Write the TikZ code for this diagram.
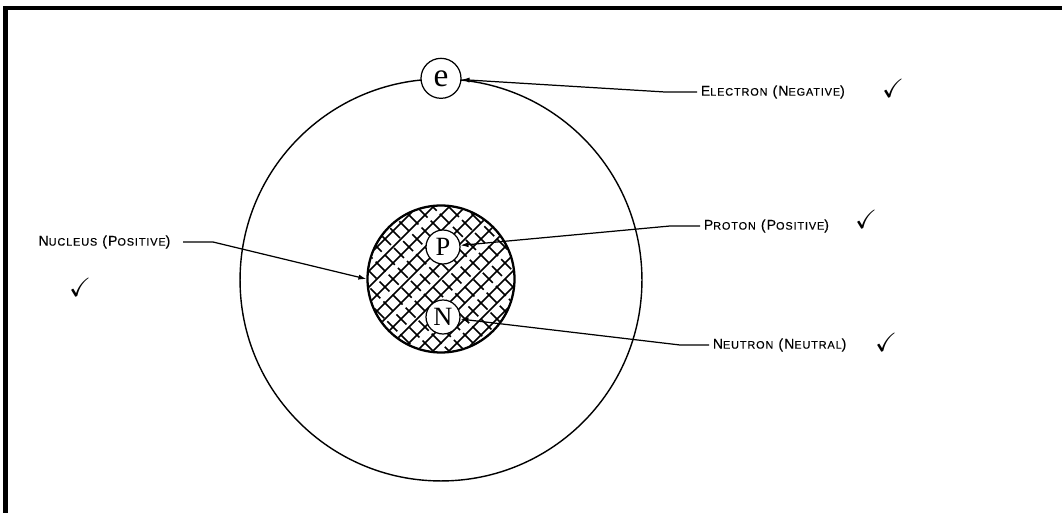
\documentclass[tikz,border=0pt]{standalone}
\usepackage{amssymb}
\usepackage{fontspec}
\setmainfont{Liberation Serif}
\newfontfamily\tagfont[LetterSpace=8,FakeBold=0.4]{Liberation Sans}
\usetikzlibrary{arrows.meta}
\newcommand{\smc}[1]{{\fontsize{6.2}{7}\selectfont #1}}
\tikzset{
  orbit/.style={circle, draw, line width=0.8pt, minimum size=8.04cm, inner sep=0pt},
  core/.style={circle, draw, fill=white, line width=1.3pt, minimum size=2.94cm, inner sep=0pt},
  particle/.style={circle, draw, fill=white, line width=0.7pt, minimum size=0.68cm,
                   inner sep=0pt, font=\fontsize{15}{17}\selectfont},
  tag/.style={anchor=west, inner sep=2pt, font=\tagfont\fontsize{8}{9}\selectfont},
  pointer/.style={-{Latex[length=4.5pt,width=3pt]}, line width=0.7pt},
  hatch/.style={line width=1pt},
  tick/.style={font=\fontsize{15}{17}\selectfont, inner sep=0pt},
  frame/.style={line width=2.3pt},
}

\begin{document}
\begin{tikzpicture}[x=0.02cm, y=-0.02cm]
  \useasboundingbox (0,0) rectangle (1062,513);
  \draw[frame] (1062,8) -| (5.5,513);
  % atom
  \node[orbit] (orbit) at (441,280) {};
  \node[particle, minimum size=0.8cm, font=\fontsize{19}{21}\selectfont] (e) at (orbit.north) {e};
  \node[core] (nuc) at (441,279) {};
  \begin{scope}
    \clip (441,279) circle (1.45cm);
    \begin{scope}[shift={(441,279)}]
      \foreach \k in {-112,-96,...,112} {
        \draw[hatch] (\k-90,90) -- (\k+90,-90);
        \draw[hatch, dash pattern=on 8pt off 2.5pt, dash phase=\k pt] (\k-90,-90) -- (\k+90,90);
      }
    \end{scope}
  \end{scope}
  \node[particle] (p) at (443,247) {P};
  \node[particle] (n) at (443,317) {N};
  % labels
  \node[tag] (elab) at (697,92) {E\smc{LECTRON} (N\smc{EGATIVE})};
  \node[tag] (plab) at (700,226) {P\smc{ROTON} (P\smc{OSITIVE})};
  \node[tag] (nlab) at (709,345) {N\smc{EUTRON} (N\smc{EUTRAL})};
  \node[tag, anchor=east, inner xsep=7pt] (nuclab) at (183,242) {N\smc{UCLEUS} (P\smc{OSITIVE})};
  \coordinate (ebend) at (665,92);
  \coordinate (pbend) at (670,226);
  \coordinate (nbend) at (680,345);
  \coordinate (nucbend) at (213,242);
  \draw[pointer] (elab.west) -- (ebend) -- (e);
  \draw[pointer] (plab.west) -- (pbend) -- (p);
  \draw[pointer] (nlab.west) -- (nbend) -- (n);
  \draw[pointer] (nuclab.east) -- (nucbend) -- (nuc.west);
  % ticks
  \node[tick] (etick) at (893,88) {$\checkmark$};
  \node[tick] (ptick) at (866,219) {$\checkmark$};
  \node[tick] (ntick) at (886,342) {$\checkmark$};
  \node[tick] (nuctick) at (80,287) {$\checkmark$};
\end{tikzpicture}
\end{document}
